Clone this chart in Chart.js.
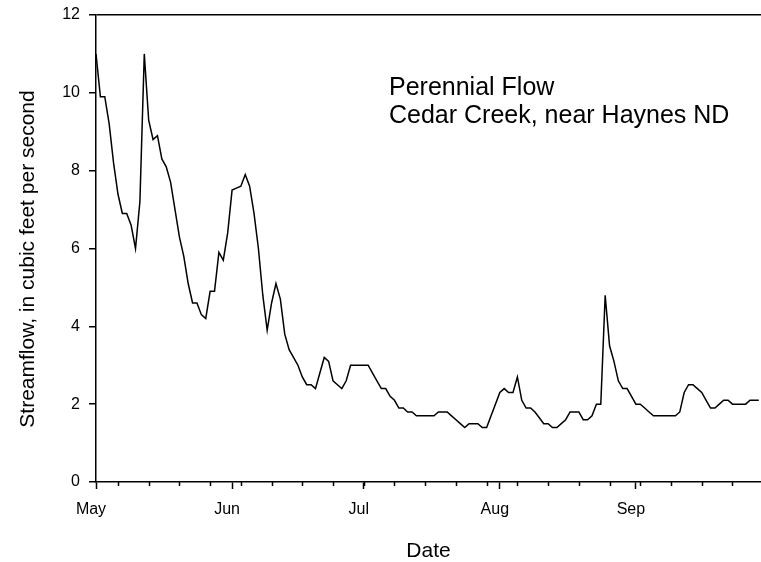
<!DOCTYPE html>
<html>
<head>
<meta charset="utf-8">
<script src="https://cdn.jsdelivr.net/npm/chart.js@4.4.1/dist/chart.umd.min.js"></script>
<style>
  body { margin: 0; background: #fff; }
  canvas { display: block; }
</style>
</head>
<body>
<canvas id="flowChart" width="761" height="562"></canvas>
<script>
'use strict';

// daily streamflow, May 1 (day 0) onward, cfs
const flow = [
  11.0, 9.9, 9.9, 9.2, 8.2, 7.4, 6.9, 6.9, 6.6, 6.0,
  7.2, 11.0, 9.3, 8.8, 8.9, 8.3, 8.1, 7.7, 7.0, 6.3,
  5.8, 5.1, 4.6, 4.6, 4.3, 4.2, 4.9, 4.9, 5.9, 5.7,
  6.4, 7.5, 7.55, 7.6, 7.9, 7.6, 6.9, 6.0, 4.8, 3.9,
  4.6, 5.1, 4.7, 3.8, 3.4, 3.2, 3.0, 2.7, 2.5, 2.5,
  2.4, 2.8, 3.2, 3.1, 2.6, 2.5, 2.4, 2.6, 3.0, 3.0,
  3.0, 3.0, 3.0, 2.8, 2.6, 2.4, 2.4, 2.2, 2.1, 1.9,
  1.9, 1.8, 1.8, 1.7, 1.7, 1.7, 1.7, 1.7, 1.8, 1.8,
  1.8, 1.7, 1.6, 1.5, 1.4, 1.5, 1.5, 1.5, 1.4, 1.4,
  1.7, 2.0, 2.3, 2.4, 2.3, 2.3, 2.7, 2.1, 1.9, 1.9,
  1.8, 1.65, 1.5, 1.5, 1.4, 1.4, 1.5, 1.6, 1.8, 1.8,
  1.8, 1.6, 1.6, 1.7, 2.0, 2.0, 4.8, 3.5, 3.1, 2.6,
  2.4, 2.4, 2.2, 2.0, 2.0, 1.9, 1.8, 1.7, 1.7, 1.7,
  1.7, 1.7, 1.7, 1.8, 2.3, 2.5, 2.5, 2.4, 2.3, 2.1,
  1.9, 1.9, 2.0, 2.1, 2.1, 2.0, 2.0, 2.0, 2.0, 2.1,
  2.1, 2.1
];

const monthNames = ['May', 'Jun', 'Jul', 'Aug', 'Sep'];
const monthStarts = [0, 31, 61, 92, 123];
const yTicks = [0, 2, 4, 6, 8, 10, 12];
const noteLines = ['Perennial Flow', 'Cedar Creek, near Haynes ND'];
const yTitle = 'Streamflow, in cubic feet per second';

const FONT = "'Liberation Sans', Arial, sans-serif";

// weekly minor ticks under the date axis
const minorTicks = {
  id: 'minorTicks',
  afterDraw(chart) {
    const xs = chart.scales.x;
    const ctx = chart.ctx;
    const y0 = chart.chartArea.bottom;
    ctx.save();
    ctx.strokeStyle = '#000';
    ctx.lineWidth = 1.5;
    for (let d = 5; d < xs.max; d += 7) {
      const px = Math.round(xs.getPixelForValue(d)) + 0.5;
      ctx.beginPath();
      ctx.moveTo(px, y0);
      ctx.lineTo(px, y0 + 4);
      ctx.stroke();
    }
    ctx.restore();
  }
};

// station label inside the plot + the y title (sits a bit below centre in the original)
const extraText = {
  id: 'extraText',
  afterDraw(chart) {
    const ctx = chart.ctx;
    ctx.save();
    ctx.fillStyle = '#000';
    ctx.font = '25px ' + FONT;
    ctx.textAlign = 'left';
    ctx.textBaseline = 'alphabetic';
    ctx.fillText(noteLines[0], 389, 95);
    ctx.fillText(noteLines[1], 389, 123);

    ctx.translate(28.5, 259);
    ctx.rotate(-Math.PI / 2);
    ctx.font = '21px ' + FONT;
    ctx.textAlign = 'center';
    ctx.textBaseline = 'middle';
    ctx.fillText(yTitle, 0, 0);
    ctx.restore();
  }
};

const ctx = document.getElementById('flowChart');

const flowChart = new Chart(ctx, {
  type: 'line',
  data: {
    datasets: [{
      data: flow.map((v, i) => ({ x: i, y: v })),
      borderColor: '#000',
      borderWidth: 1.5,
      pointRadius: 0,
      tension: 0,
      fill: false
    }]
  },
  options: {
    responsive: false,
    animation: false,
    layout: { padding: { left: 0, right: 0, top: 15, bottom: 0 } },
    plugins: {
      legend: { display: false },
      tooltip: { enabled: false }
    },
    scales: {
      x: {
        type: 'linear',
        min: 0,
        max: 151.5,
        afterBuildTicks: axis => {
          axis.ticks = monthStarts.map(v => ({ value: v }));
        },
        afterFit: scale => { scale.height = 80; },
        ticks: {
          color: '#000',
          font: { family: FONT, size: 16 },
          padding: 11,
          labelOffset: -5,
          maxRotation: 0,
          autoSkip: false,
          callback: (value, index) => monthNames[index]
        },
        grid: {
          drawOnChartArea: false,
          drawTicks: true,
          tickLength: 7,
          tickColor: '#000',
          tickWidth: 1.5
        },
        border: { color: '#000', width: 1.5 },
        title: {
          display: true,
          text: 'Date',
          color: '#000',
          font: { family: FONT, size: 21, lineHeight: 1 },
          padding: { top: 0, bottom: 0 }
        }
      },
      y: {
        min: 0,
        max: 12,
        afterBuildTicks: axis => {
          axis.ticks = yTicks.map(v => ({ value: v }));
        },
        afterFit: scale => {
          scale.width = 96;
          scale.paddingTop = 0;
          scale.paddingBottom = 0;
        },
        ticks: {
          color: '#000',
          font: { family: FONT, size: 16 },
          padding: 9
        },
        grid: {
          drawOnChartArea: true,
          color: c => (c.tick && c.tick.value === 12 ? '#000' : 'rgba(0,0,0,0)'),
          lineWidth: 1.5,
          tickLength: 7,
          tickColor: '#000',
          tickWidth: 1.5
        },
        border: { color: '#000', width: 1.5 }
      }
    }
  },
  plugins: [minorTicks, extraText]
});
</script>
</body>
</html>
